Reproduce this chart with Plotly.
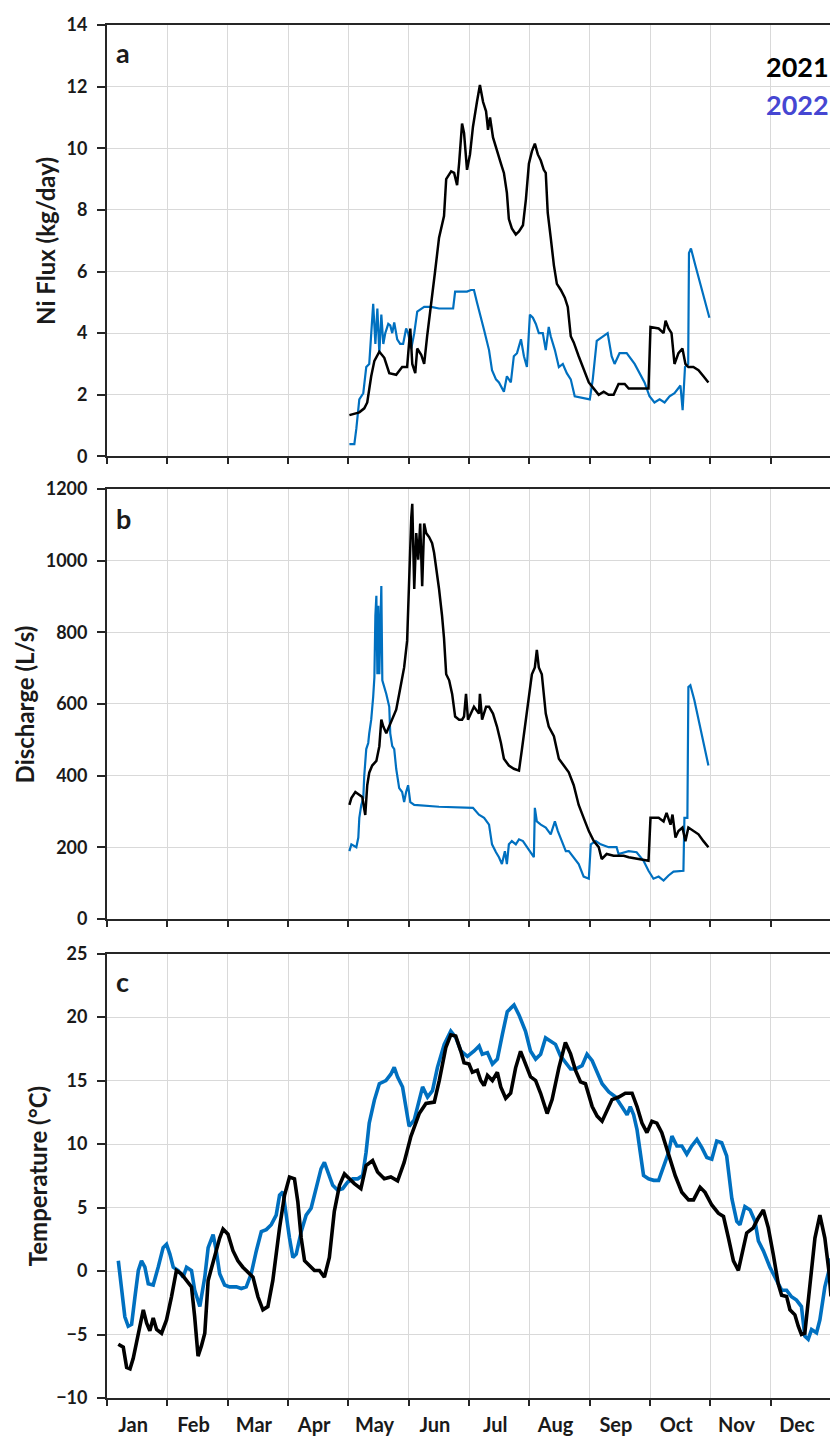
import plotly.graph_objects as go
from plotly.subplots import make_subplots

months = ["Jan", "Feb", "Mar", "Apr", "May", "Jun", "Jul", "Aug", "Sep", "Oct", "Nov", "Dec"]

# ---- Panel a: Ni flux (kg/day), x = day of year ----
ni_2021_day = [122.2, 127.2, 129.7, 131.2, 133.2, 134.8, 137.3, 139.8, 142.3, 145.8, 148.8, 151.3, 152.9, 153.9,
               155.4, 156.4, 158.4, 159.9, 161.4, 163.4, 165.4, 167.4, 169.9, 171.0, 173.5, 175.0, 176.5, 177.5,
               179.0, 180.0, 181.5, 183.0, 184.5, 186.5, 188.0, 189.6, 191.1, 192.1, 193.1, 194.6, 196.1, 198.6,
               200.1, 201.6, 202.6, 204.1, 206.1, 207.7, 209.7, 211.2, 212.7, 214.2, 215.7, 217.2, 218.7, 220.2,
               221.2, 222.2, 223.7, 225.3, 226.8, 228.8, 230.8, 232.3, 233.8, 235.3, 237.8, 240.3, 242.9, 245.4,
               247.9, 250.4, 252.9, 255.4, 257.9, 261.0, 263.0, 273.0, 274.0, 278.1, 280.6, 281.6, 283.1, 284.6,
               286.1, 288.1, 290.1, 291.6, 293.1, 295.6, 298.2, 300.7, 303.2]
ni_2021 = [1.34, 1.43, 1.56, 1.75, 2.6, 3.1, 3.4, 3.2, 2.7, 2.65, 2.9, 2.9, 4.15, 3.0,
           2.7, 3.5, 3.3, 3.0, 3.9, 4.9, 6.0, 7.1, 7.8, 9.0, 9.25, 9.2, 8.8, 9.5,
           10.8, 10.5, 9.3, 9.8, 10.7, 11.5, 12.05, 11.5, 11.2, 10.6, 11.0, 10.35, 10.0, 9.5,
           9.2, 8.55, 7.7, 7.4, 7.2, 7.3, 7.5, 8.35, 9.5, 9.9, 10.15, 9.8, 9.6, 9.3,
           9.2, 7.9, 7.1, 6.2, 5.6, 5.4, 5.15, 4.85, 3.9, 3.7, 3.25, 2.8, 2.4, 2.2,
           2.0, 2.1, 2.0, 2.0, 2.35, 2.35, 2.2, 2.2, 4.2, 4.15, 4.0, 4.4, 4.15, 4.0,
           3.0, 3.35, 3.5, 3.0, 2.9, 2.9, 2.8, 2.6, 2.4]

ni_2022_day = [122.2, 124.7, 125.7, 127.2, 129.2, 130.7, 132.2, 133.2, 134.2, 135.3, 136.3, 137.3, 138.3, 139.3,
               140.3, 141.8, 142.8, 143.8, 144.8, 146.3, 147.8, 149.3, 150.8, 151.8, 153.4, 154.9, 156.4, 159.9,
               163.4, 167.4, 174.5, 175.5, 181.5, 183.5, 185.0, 186.5, 189.1, 190.1, 192.6, 194.1, 196.1, 197.6,
               200.1, 201.6, 203.6, 205.1, 206.7, 208.7, 210.2, 211.7, 213.2, 214.7, 216.2, 217.7, 219.7, 221.2,
               222.7, 223.7, 225.8, 227.8, 229.8, 231.8, 233.8, 235.8, 243.4, 244.9, 246.9, 249.9, 252.4, 254.4,
               255.9, 258.4, 262.0, 266.0, 268.5, 271.0, 273.5, 276.0, 278.6, 281.1, 283.6, 286.1, 289.1, 290.2,
               291.4, 293.0, 293.4, 294.4, 296.6, 299.1, 301.7, 303.7]
ni_2022 = [0.4, 0.4, 0.9, 1.85, 2.05, 2.9, 3.0, 4.0, 4.95, 3.65, 4.8, 3.35, 4.6, 3.65,
           4.0, 4.3, 4.25, 4.0, 4.35, 3.8, 3.65, 3.65, 4.15, 4.0, 3.5, 4.0, 4.7, 4.85,
           4.85, 4.8, 4.8, 5.35, 5.35, 5.4, 5.4, 5.0, 4.4, 4.1, 3.45, 2.8, 2.5, 2.4,
           2.1, 2.6, 2.4, 3.25, 3.35, 3.8, 3.25, 2.9, 4.6, 4.5, 4.3, 4.0, 4.0, 3.45,
           4.2, 3.9, 3.45, 2.9, 3.0, 2.7, 2.5, 1.95, 1.85, 2.5, 3.75, 3.9, 4.0, 3.25,
           3.0, 3.35, 3.35, 3.0, 2.7, 2.4, 1.95, 1.75, 1.85, 1.75, 1.95, 2.05, 2.3, 1.5,
           2.9, 3.0, 6.6, 6.75, 6.2, 5.6, 5.0, 4.5]

# ---- Panel b: Discharge (L/s) ----
q_2021_day = [122.2, 123.2, 125.2, 127.2, 128.7, 130.2, 131.2, 132.2, 133.7, 135.8, 137.3, 138.3, 139.3, 140.8,
              142.3, 143.8, 145.8, 147.3, 148.8, 149.8, 151.3, 152.3, 153.4, 153.9, 154.9, 155.9, 156.9, 157.9,
              158.9, 159.9, 160.9, 162.4, 163.9, 164.9, 166.4, 167.4, 168.9, 169.9, 171.0, 172.5, 174.0, 175.5,
              177.5, 179.0, 180.0, 181.0, 182.0, 183.5, 185.0, 187.5, 188.0, 189.1, 191.1, 192.6, 194.6, 196.6,
              198.6, 200.1, 202.6, 205.1, 207.7, 209.2, 210.7, 212.7, 214.2, 215.7, 216.7, 217.7, 219.2, 221.2,
              222.7, 225.3, 227.8, 230.3, 232.8, 235.3, 237.8, 240.3, 242.9, 245.4, 247.9, 249.4, 251.9, 255.4,
              260.5, 263.0, 273.0, 274.0, 278.1, 280.6, 282.1, 284.1, 285.1, 286.6, 288.1, 290.1, 291.6, 293.1,
              295.6, 298.2, 300.7, 303.2]
q_2021 = [318, 337, 354, 345, 340, 290, 373, 408, 428, 441, 482, 556, 537, 518,
          537, 556, 584, 628, 674, 702, 776, 957, 1121, 1159, 921, 1077, 1003, 1104,
          929, 1104, 1077, 1066, 1049, 1022, 967, 921, 847, 784, 683, 666, 628, 565,
          556, 556, 565, 628, 556, 573, 592, 573, 628, 556, 592, 592, 573, 537,
          491, 447, 428, 419, 414, 474, 537, 611, 683, 702, 751, 702, 683, 573,
          537, 510, 447, 428, 409, 373, 318, 282, 245, 217, 200, 167, 181, 176,
          176, 172, 162, 282, 282, 272, 296, 263, 291, 227, 245, 255, 217, 255,
          245, 236, 217, 200]

q_2022_day = [122.2, 123.2, 125.7, 126.7, 127.2, 128.2, 129.2, 129.7, 130.7, 131.7, 132.2, 133.2, 134.2, 134.8,
              135.3, 135.8, 136.3, 136.8, 137.3, 138.3, 138.8, 139.8, 140.8, 142.3, 142.8, 143.8, 144.8, 145.8,
              147.3, 148.8, 149.8, 150.8, 151.8, 152.9, 154.9, 167.4, 184.5, 187.5, 190.1, 192.6, 194.1, 196.1,
              197.6, 199.1, 200.6, 201.6, 202.6, 204.1, 206.1, 207.7, 209.7, 215.2, 215.7, 216.7, 218.7, 221.2,
              223.7, 225.8, 227.3, 229.3, 231.3, 232.8, 235.3, 237.8, 240.3, 242.9, 243.9, 246.4, 248.9, 252.9,
              256.9, 257.9, 263.0, 267.0, 270.5, 273.0, 275.5, 278.1, 280.6, 283.1, 285.6, 290.6, 291.1, 292.6,
              293.1, 294.1, 296.1, 298.2, 300.7, 303.2]
q_2022 = [189, 208, 200, 227, 282, 318, 337, 400, 474, 491, 518, 556, 620, 674,
          847, 902, 683, 874, 683, 929, 666, 647, 628, 592, 518, 482, 474, 419,
          365, 354, 326, 354, 373, 326, 318, 313, 310, 291, 282, 263, 208, 186,
          172, 153, 189, 153, 208, 217, 208, 222, 217, 172, 310, 272, 263, 255,
          236, 272, 245, 217, 189, 189, 172, 153, 118, 112, 208, 217, 208, 200,
          200, 181, 189, 186, 162, 134, 112, 118, 107, 121, 132, 134, 282, 282,
          647, 652, 611, 556, 491, 428]

# ---- Panel c: Temperature (°C) ----
t_2021_day = [5.7, 8.2, 9.9, 11.6, 13.2, 14.9, 16.6, 18.3, 20.0, 21.6, 23.3, 25.0, 27.5, 30.0, 32.5, 35.0,
              37.5, 40.1, 42.6, 44.2, 45.9, 47.6, 49.3, 51.0, 53.5, 56.8, 58.5, 61.0, 63.5, 66.0, 68.5, 71.1,
              73.6, 76.1, 78.6, 81.1, 83.6, 87.0, 89.5, 92.0, 94.5, 96.2, 97.9, 99.6, 102.1, 104.6, 107.1, 109.6,
              112.1, 114.6, 117.2, 119.7, 122.2, 124.7, 128.0, 130.6, 133.9, 136.4, 139.8, 143.1, 146.5, 149.8,
              153.2, 157.4, 160.8, 165.0, 167.5, 170.8, 173.3, 175.8, 178.4, 180.0, 182.5, 184.2, 186.7, 188.4,
              190.1, 191.8, 194.3, 196.8, 198.5, 201.0, 203.5, 206.0, 208.5, 211.0, 213.5, 216.1, 218.6, 221.9,
              224.4, 227.8, 231.1, 233.7, 236.2, 238.7, 241.2, 244.6, 247.1, 249.6, 252.1, 254.6, 258.0, 261.3,
              264.7, 267.2, 269.7, 272.2, 274.7, 277.2, 279.7, 283.1, 286.5, 289.8, 293.2, 295.7, 299.0, 301.5,
              304.9, 308.2, 310.8, 313.3, 315.8, 318.3, 320.8, 322.5, 325.8, 328.4, 330.9, 333.4, 335.9, 338.4,
              340.1, 342.6, 344.3, 346.8, 348.5, 350.1, 351.8, 354.3, 356.9, 359.4, 361.9, 363.9, 365.0]
t_2021 = [-5.77, -6.0, -7.6, -7.7, -6.9, -5.6, -4.35, -3.06, -4.1, -4.7, -3.7, -4.6, -4.9, -3.85, -2.03, 0.04,
          -0.22, -0.74, -1.25, -3.6, -6.7, -5.9, -4.9, -0.74, 0.81, 2.6, 3.3, 2.9, 1.6, 0.81, 0.3, -0.09,
          -0.48, -2.03, -3.06, -2.8, -0.74, 3.4, 5.97, 7.4, 7.26, 5.46, 2.6, 0.81, 0.42, 0.04, 0.04, -0.48,
          1.07, 4.7, 6.75, 7.65, 7.26, 6.88, 6.49, 8.3, 8.7, 7.8, 7.26, 7.4, 7.1, 8.55,
          10.6, 12.4, 13.2, 13.3, 15.0, 17.6, 18.6, 18.5, 17.3, 16.4, 16.3, 15.65, 15.8, 15.0,
          14.6, 15.4, 15.0, 15.65, 14.5, 13.6, 14.0, 16.0, 17.3, 16.2, 15.3, 15.0, 14.0, 12.4,
          13.5, 16.0, 18.0, 17.1, 15.8, 14.9, 14.75, 12.95, 12.2, 11.8, 12.7, 13.5, 13.7, 14.0,
          14.0, 12.95, 11.65, 10.9, 11.8, 11.65, 10.9, 9.3, 7.5, 6.2, 5.6, 5.6, 6.6, 6.2,
          5.2, 4.55, 4.3, 2.6, 0.8, 0.05, 1.85, 3.0, 3.4, 4.2, 4.8, 3.4, 1.3, -1.0,
          -1.9, -2.0, -3.05, -3.45, -4.35, -5.0, -4.9, -1.0, 2.6, 4.4, 2.6, 0.05, -2.0]

t_2022_day = [5.7, 7.4, 9.0, 10.7, 12.4, 14.1, 15.8, 17.4, 19.1, 20.8, 23.3, 25.8, 28.3, 30.0, 31.7, 33.4,
              35.9, 38.4, 40.1, 42.6, 44.2, 46.8, 47.6, 49.3, 51.0, 53.5, 55.1, 56.8, 59.3, 61.8, 65.2, 67.7,
              70.2, 72.7, 75.3, 77.8, 80.3, 82.8, 85.3, 87.0, 88.7, 90.3, 92.0, 93.7, 95.4, 97.9, 100.4, 102.9,
              105.4, 107.9, 109.6, 111.3, 113.8, 116.3, 118.8, 121.3, 123.9, 126.4, 128.9, 130.6, 132.2, 134.8,
              137.3, 140.6, 143.1, 144.8, 146.5, 149.0, 150.7, 152.3, 154.9, 157.4, 159.1, 161.6, 164.1, 166.6,
              170.0, 173.3, 175.8, 178.4, 181.7, 185.1, 187.6, 189.2, 191.8, 194.3, 196.8, 199.3, 201.8, 205.2,
              207.7, 211.0, 213.5, 216.1, 218.6, 221.1, 223.6, 226.1, 228.6, 231.1, 233.7, 236.2, 239.5, 242.0,
              244.6, 247.1, 249.6, 253.0, 256.3, 259.6, 262.2, 263.8, 265.5, 267.2, 268.9, 270.5, 273.0, 275.6,
              278.1, 280.6, 283.1, 284.8, 287.3, 289.8, 292.3, 294.8, 297.4, 299.9, 302.4, 304.9, 307.4, 309.9,
              312.4, 315.0, 317.5, 319.1, 321.6, 324.2, 326.7, 328.4, 330.9, 334.2, 337.6, 340.1, 342.6, 345.1,
              347.6, 350.1, 351.8, 353.5, 355.2, 357.7, 359.4, 361.9, 364.4, 365.0]
t_2022 = [0.81, -1.5, -3.6, -4.35, -4.2, -2.03, 0.04, 0.81, 0.3, -1.0, -1.1, 0.3, 1.84, 2.1, 1.33, 0.3,
          0.04, -0.48, 0.3, 0.04, -1.5, -2.8, -2.03, -0.48, 1.84, 2.87, 1.6, -0.22, -1.1, -1.25, -1.25, -1.38,
          -1.25, -0.22, 1.6, 3.1, 3.26, 3.65, 4.4, 5.97, 6.23, 4.4, 2.6, 1.07, 1.33, 3.1, 4.4, 4.94,
          6.49, 8.04, 8.55, 7.78, 6.75, 6.36, 6.49, 7.0, 7.26, 7.26, 7.52, 9.33, 11.65, 13.46,
          14.75, 15.0, 15.5, 16.04, 15.27, 14.49, 12.94, 11.4, 11.9, 13.46, 14.5, 13.7, 14.2, 16.04,
          17.85, 18.9, 18.4, 17.33, 16.9, 17.33, 17.72, 17.07, 17.2, 16.3, 16.69, 18.62, 20.43, 20.95,
          20.17, 18.88, 17.33, 16.69, 17.07, 18.36, 18.1, 17.85, 16.94, 16.43, 15.91, 15.91, 16.17, 17.07,
          16.56, 15.65, 14.75, 14.1, 13.72, 12.94, 12.3, 12.94, 12.3, 11.14, 9.33, 7.52, 7.26, 7.14,
          7.14, 8.3, 9.33, 10.62, 9.85, 9.85, 9.2, 9.85, 10.36, 9.72, 8.94, 8.81, 10.23, 10.1,
          9.07, 5.72, 3.91, 3.65, 5.07, 4.81, 3.91, 2.36, 1.59, 0.3, -0.74, -1.51, -1.51, -2.03,
          -2.29, -2.8, -5.13, -5.38, -4.61, -4.87, -3.84, -1.25, 0.3, 1.0]

BLACK = "#000000"
BLUE = "#0070C0"
AXIS = "#262626"
GRID = "#d9d9d9"
FONT = "Lato"
TXT = "#1a1a1a"

month_edges = [i * 365 / 12 for i in range(13)]
month_mids = [(i + 0.5) * 365 / 12 - 2 for i in range(12)]

fig = make_subplots(rows=3, cols=1)

def add(row, x, y, color, width):
    fig.add_trace(go.Scatter(x=x, y=y, mode="lines", line=dict(color=color, width=width),
                             showlegend=False, hoverinfo="skip"), row=row, col=1)

add(1, ni_2022_day, ni_2022, BLUE, 2.2)
add(1, ni_2021_day, ni_2021, BLACK, 2.5)
add(2, q_2022_day, q_2022, BLUE, 2.2)
add(2, q_2021_day, q_2021, BLACK, 2.5)
add(3, t_2022_day, t_2022, BLUE, 3.6)
add(3, t_2021_day, t_2021, BLACK, 3.6)

domains = {1: [0.6858, 1.0], 2: [0.349, 0.662], 3: [0.0, 0.3237]}
yranges = {1: (0, 14, 2), 2: (0, 1200, 200), 3: (-10, 25, 5)}

for r in (1, 2, 3):
    xa = "xaxis" if r == 1 else f"xaxis{r}"
    ya = "yaxis" if r == 1 else f"yaxis{r}"
    fig.layout[xa].update(
        range=[0, 365], domain=[0, 1],
        tickmode="array", tickvals=month_mids, ticktext=months,
        ticks="", showgrid=False, showticklabels=(r == 3),
        ticklabelstandoff=8,
        tickfont=dict(family=FONT, size=20, color=TXT, weight="bold"),
        minor=dict(tickmode="array", tickvals=month_edges, ticks="outside", ticklen=6,
                   tickwidth=1.6, tickcolor=AXIS, showgrid=True, gridcolor=GRID, gridwidth=1.3),
        showline=True, linecolor=AXIS, linewidth=1.8, mirror=True, zeroline=False,
    )
    lo, hi, st = yranges[r]
    fig.layout[ya].update(
        range=[lo, hi], domain=domains[r],
        tickmode="linear", tick0=lo, dtick=st,
        ticks="outside", ticklen=8, tickwidth=1.6, tickcolor=AXIS,
        ticklabelstandoff=6,
        tickfont=dict(family=FONT, size=18, color=TXT, weight="bold"),
        showgrid=True, gridcolor=GRID, gridwidth=1.3,
        showline=True, linecolor=AXIS, linewidth=1.8, mirror=True, zeroline=False,
    )

ann = []
titles = {1: ("Ni Flux (kg/day)", -0.084), 2: ("Discharge (L/s)", -0.114), 3: ("Temperature (°C)", -0.096)}
letters = {1: ("a", 0.936), 2: ("b", 0.931), 3: ("c", 0.938)}
for r in (1, 2, 3):
    yd = "y domain" if r == 1 else f"y{r} domain"
    t, xp = titles[r]
    ann.append(dict(text=t, x=xp, xref="paper", y=0.5, yref=yd, textangle=-90,
                    xanchor="center", yanchor="middle", showarrow=False,
                    font=dict(family=FONT, size=24, color=TXT, weight="bold")))
    l, yp = letters[r]
    ann.append(dict(text=l, x=0.01, xref="paper", y=yp, yref=yd, xanchor="left", yanchor="middle",
                    showarrow=False, font=dict(family=FONT, size=27, color=TXT, weight="bold")))

ann.append(dict(text="2021", x=1.0, xref="paper", y=0.904, yref="y domain", xanchor="right",
                yanchor="middle", showarrow=False,
                font=dict(family=FONT, size=27, color="#000000", weight="bold")))
ann.append(dict(text="2022", x=1.0, xref="paper", y=0.8155, yref="y domain", xanchor="right",
                yanchor="middle", showarrow=False,
                font=dict(family=FONT, size=27, color="#4646d2", weight="bold")))

# page body has an 8px default margin, so the figure is shifted by 8px
fig.update_layout(
    width=830, height=1433,
    margin=dict(l=99, r=5, t=8, b=28),
    plot_bgcolor="white", paper_bgcolor="white",
    annotations=ann, showlegend=False,
    font=dict(family=FONT, color=TXT),
)

fig.write_html("out.html")
